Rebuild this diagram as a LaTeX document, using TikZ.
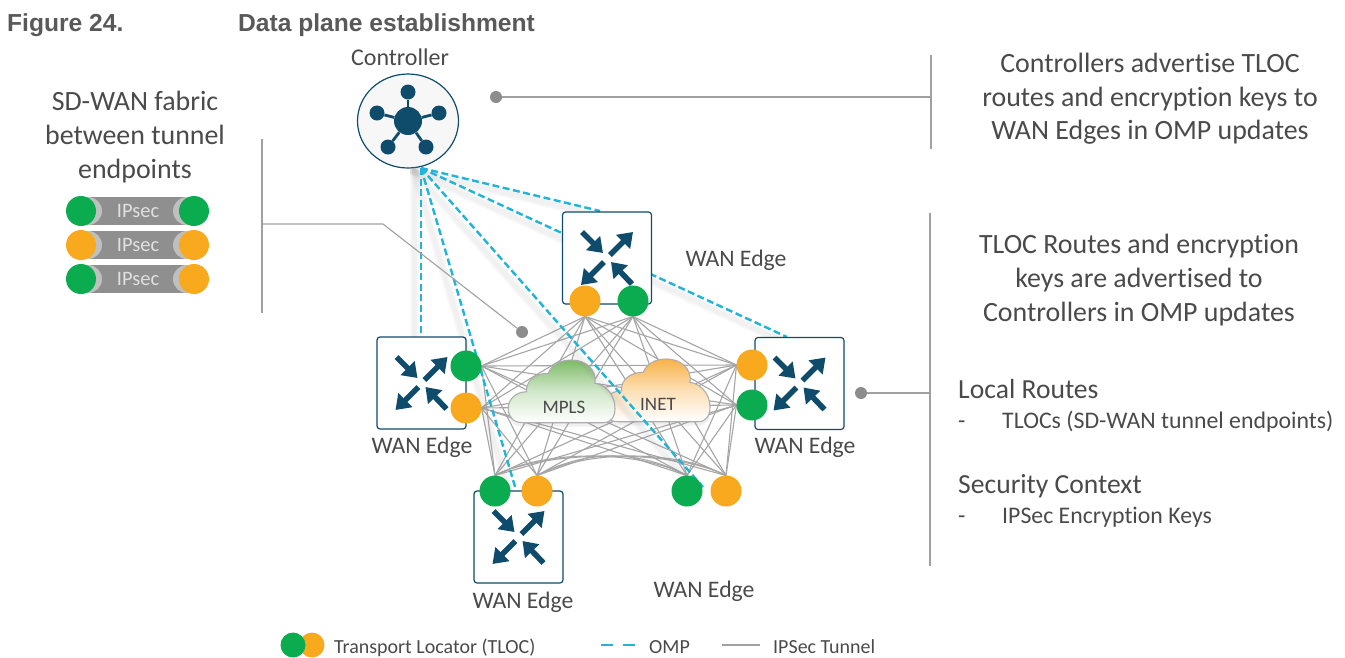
\documentclass[tikz,border=0pt]{standalone}
\usepackage{fontspec}
\setmainfont{Carlito}[Ligatures=CommonOff]
\newfontfamily\titlefont{Liberation Sans}
\usetikzlibrary{arrows.meta,shapes.geometric}
\pgfdeclarelayer{front}
\pgfsetlayers{main,front}
\definecolor{tealdark}{HTML}{0F4C6B}
\definecolor{tlocgreen}{HTML}{0BAB4F}
\definecolor{tlocorange}{HTML}{F9A91E}
\definecolor{ompblue}{HTML}{1FB4D8}
\definecolor{meshgray}{HTML}{A5A5A5}
\definecolor{textgray}{HTML}{4A4A4A}
\definecolor{calloutgray}{HTML}{A0A0A0}
\definecolor{cloudgreen}{HTML}{7DBB68}
\definecolor{cloudorange}{HTML}{F8B148}
\newcommand{\cloudpath}{(523.3,422.7) .. controls (512,422.7) and (508.3,416) .. (508.3,408.3)
 .. controls (508.3,398) and (517,392) .. (526.7,391.7)
 .. controls (525,382) and (535,373) .. (548.3,373.3)
 .. controls (552,364) and (561,360) .. (571.7,360)
 .. controls (586,360) and (597,370) .. (595,383.3)
 .. controls (607,385) and (615,396) .. (615,408.3)
 .. controls (615,417) and (611,422.7) .. (603.3,422.7) -- cycle}

\begin{document}
\begin{tikzpicture}[x=1pt,y=-1pt]
\tikzstyle{every node}+=[inner sep=0pt,text=textgray]
\tikzstyle{tloc}=[circle,minimum size=31pt,line width=0pt]
\tikzstyle{router}=[draw=tealdark,fill=white,line width=1.2pt,rounded corners=3pt,minimum width=89pt,minimum height=92pt]
\tikzstyle{omp}=[ompblue,line width=2.4pt,dash pattern=on 7pt off 3.5pt]
\tikzstyle{ompshadow}=[gray,opacity=0.06,line cap=round]
\tikzstyle{mesh}=[meshgray,line width=1.1pt]
\tikzstyle{callout}=[calloutgray,line width=1.3pt]
\tikzstyle{calldot}=[circle,fill=black!45,minimum size=12pt]
\tikzstyle{big}=[align=center,font=\fontsize{27.9}{33.7}\selectfont]
\tikzstyle{mid}=[anchor=base west,font=\fontsize{27.6}{32}\selectfont]
\tikzstyle{small}=[anchor=base west,font=\fontsize{23.8}{28}\selectfont]
\tikzstyle{edgelabel}=[font=\fontsize{23.7}{28}\selectfont]
\tikzstyle{legend}=[anchor=base west,font=\fontsize{20}{24}\selectfont]
\tikzstyle{head}=[anchor=base west,text=black!65,font=\titlefont\bfseries\fontsize{24.6}{28}\selectfont]
\useasboundingbox (0,0) rectangle (1345,657);

\node [head] (figno) at (7,31) {Figure 24.};
\node [head] (figtitle) at (238,31) {Data plane establishment};

\begin{pgfonlayer}{front}
\node [tloc,fill=tlocorange] (topO) at (585,301) {};
\node [tloc,fill=tlocgreen] (topG) at (633,301) {};
\node [tloc,fill=tlocgreen] (leftG) at (466,366) {};
\node [tloc,fill=tlocorange] (leftO) at (466,408) {};
\node [tloc,fill=tlocorange] (rightO) at (752,365) {};
\node [tloc,fill=tlocgreen] (rightG) at (752,405) {};
\node [tloc,fill=tlocgreen] (lowG) at (495,491) {};
\node [tloc,fill=tlocorange] (lowO) at (537,491) {};
\node [tloc,fill=tlocgreen] (farG) at (687,491) {};
\node [tloc,fill=tlocorange] (farO) at (726,491) {};
\end{pgfonlayer}

\foreach \a/\i in {topO.south/1,topG.south/1,leftG.east/2,leftO.east/2,rightO.west/3,rightG.west/3,lowG.north/4,lowO.north/4}
  \foreach \b/\j in {leftG.east/2,leftO.east/2,rightO.west/3,rightG.west/3,lowG.north/4,lowO.north/4,farG.north/5,farO.north/5}
    {\ifnum\i<\j \ifnum\i=4 \else \draw [mesh] (\a) -- (\b); \fi\fi}
\foreach \a in {lowG,lowO}
  \foreach \b in {farG,farO}
    \draw [mesh] (\a.north) .. controls +(50,-26) and +(-50,-26) .. (\b.north);

\fill [gray,opacity=0.12,shift={(95,3)}] \cloudpath;
\fill [gray,opacity=0.12,shift={(0,4)}] \cloudpath;
\draw [draw=black!32,line width=1.1pt,top color=cloudorange,bottom color=white,middle color=cloudorange!40,shift={(95,-1)}] \cloudpath;
\draw [draw=black!32,line width=1.1pt,top color=cloudgreen,bottom color=white,middle color=cloudgreen!35] \cloudpath;
\node [font=\fontsize{19}{22}\selectfont] (mpls) at (564,407) {MPLS};
\node [font=\fontsize{19}{22}\selectfont] (inet) at (658,404) {INET};

\node [draw=tealdark,fill=black!3,line width=1.2pt,ellipse,minimum width=101pt,minimum height=94pt] (ctrl) at (408,121) {};
\node (ctrlLabel) [font=\fontsize{24}{28}\selectfont] at (400,57) {Controller};
\node [circle,fill=tealdark,minimum size=28pt] (hub) at (408,121) {};
\foreach \n/\x/\y in {a/408/92,b/377/113,c/439/113,d/388/147,e/426/147} {
  \node [circle,fill=tealdark,minimum size=15pt] (sat\n) at (\x,\y) {};
  \draw [tealdark,line width=2.8pt] (hub) -- (sat\n);
}
\coordinate (ompstart) at (421,168);
\coordinate (ompTop) at (600,211);
\coordinate (ompRight) at (787,337);
\coordinate (ompLeft) at (421,336);
\coordinate (ompLow) at (516,490);
\coordinate (ompFar) at (703,487);

\foreach \t in {ompTop,ompRight,ompLeft,ompLow,ompFar} {
  \draw [ompshadow,line width=9pt,transform canvas={shift={(-7pt,-3pt)}}] (ompstart) -- (\t);
  \draw [ompshadow,line width=5pt,transform canvas={shift={(-7pt,-3pt)}}] (ompstart) -- (\t);
}
\foreach \t in {ompTop,ompRight,ompLeft,ompLow,ompFar}
  \draw [omp] (ompstart) -- (\t);

\node [router] (edgeTop) at (607,258) {};
\node [router] (edgeLeft) at (421.5,383) {};
\node [router] (edgeRight) at (799.5,383.5) {};
\node [router] (edgeLow) at (518.5,537) {};
\foreach \r in {edgeTop,edgeLeft,edgeRight,edgeLow} {
  \begin{scope}[shift={(\r.center)},tealdark,line width=5.6pt,-{Triangle[length=14pt,width=19pt]}]
    \draw (-25,-26) -- (-4,-5);
    \draw (3,-3) -- (26,-26);
    \draw (-3,4) -- (-26,27);
    \draw (25,26) -- (4,4);
  \end{scope}
}

\node [edgelabel] (lblTop) at (736,260) {WAN Edge};
\node [edgelabel] (lblLeft) at (422,447) {WAN Edge};
\node [edgelabel] (lblRight) at (805,447) {WAN Edge};
\node [edgelabel] (lblLow) at (523,602) {WAN Edge};
\node [edgelabel] (lblFar) at (704,591) {WAN Edge};

\node [big] (fabric) at (135,137) {SD-WAN fabric\\between tunnel\\endpoints};
\foreach \y/\cl/\cr in {211/tlocgreen/tlocgreen,245/tlocorange/tlocorange,279/tlocgreen/tlocorange} {
  \fill [black!44] (88,\y-14) rectangle (187,\y+14);
  \fill [black!25] (88,\y) circle (14);
  \fill [black!25] (187,\y) circle (14);
  \node [circle,fill=\cl,minimum size=30pt] (pillL\y) at (81,\y) {};
  \node [circle,fill=\cr,minimum size=30pt] (pillR\y) at (194,\y) {};
  \node [text=black!12,font=\fontsize{20.5}{24}\selectfont] (pill\y) at (138,\y) {IPsec};
}

\coordinate (fabTop) at (262,139);
\coordinate (fabBot) at (262,313);
\coordinate (fabJoin) at (262,224);
\coordinate (fabBend) at (383,224);
\node [calldot] (fabDot) at (522,332) {};
\draw [callout] (fabTop) -- (fabBot);
\draw [calloutgray,line width=1.1pt] (fabJoin) -- (fabBend) -- (fabDot);

\node [calldot] (ctrlDot) at (496,97) {};
\coordinate (ctrlBarTop) at (931,55);
\coordinate (ctrlBarBot) at (931,149);
\coordinate (ctrlJoin) at (931,97);
\draw [callout] (ctrlBarTop) -- (ctrlBarBot);
\draw [callout] (ctrlDot) -- (ctrlJoin);

\node [calldot] (edgeDot) at (861,393) {};
\coordinate (edgeBarTop) at (930,213);
\coordinate (edgeBarBot) at (930,566);
\coordinate (edgeJoin) at (930,393);
\draw [callout] (edgeBarTop) -- (edgeBarBot);
\draw [callout] (edgeDot) -- (edgeJoin);

\node [big] (noteCtrl) at (1150,99) {Controllers advertise TLOC\\routes and encryption keys to\\WAN Edges in OMP updates};
\node [big] (noteTloc) at (1139,280) {TLOC Routes and encryption\\keys are advertised to\\Controllers in OMP updates};
\node [mid] (noteLocal) at (958,398) {Local Routes};
\node [small] (dashLocal) at (958,428) {-};
\node [small] (noteTlocs) at (1002,428) {TLOCs (SD-WAN tunnel endpoints)};
\node [mid] (noteSec) at (958,493) {Security Context};
\node [small] (dashSec) at (958,523) {-};
\node [small] (noteKeys) at (1002,523) {IPSec Encryption Keys};

\node [circle,fill=tlocorange,minimum size=25pt] (legO) at (312,645) {};
\node [circle,fill=tlocgreen,minimum size=25pt] (legG) at (293,645) {};
\node [legend] (legTloc) at (334,653) {Transport Locator (TLOC)};
\coordinate (legOmpA) at (601,645);
\coordinate (legOmpB) at (635,645);
\draw [ompblue,line width=2.6pt,dash pattern=on 12pt off 10pt] (legOmpA) -- (legOmpB);
\node [legend] (legOmp) at (649,653) {OMP};
\coordinate (legIpA) at (722,645);
\coordinate (legIpB) at (760,645);
\draw [calloutgray,line width=2.4pt] (legIpA) -- (legIpB);
\node [legend] (legIp) at (773,653) {IPSec Tunnel};
\end{tikzpicture}
\end{document}
